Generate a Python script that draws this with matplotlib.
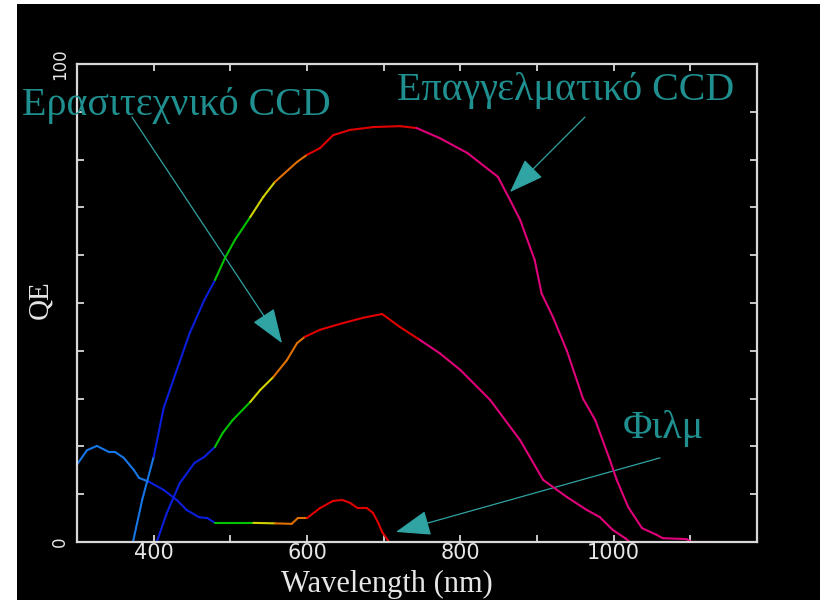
"""
Quantum efficiency of film, amateur and professional CCDs vs wavelength.
"""

import numpy as np
import matplotlib
matplotlib.use("Agg")
import matplotlib.pyplot as plt
from matplotlib.collections import LineCollection
from matplotlib.patches import FancyArrowPatch, Rectangle

# --- data -------------------------------------------------------------------
pro_nm = [373, 385, 400, 413, 428, 447, 466, 480, 493, 506, 526, 543, 558,
          587, 600, 617, 634, 656, 686, 721, 743, 773, 809, 849, 865, 878,
          897, 906, 921, 939, 960, 976, 995, 1004, 1019, 1037, 1056, 1064,
          1095, 1102, 1137]
pro_qe = [0, 8.8, 17.8, 28, 35, 43.7, 50.6, 54.8, 59.4, 63.2, 68, 72.2, 75.3,
          79.5, 81, 82.4, 85.1, 86.2, 86.8, 87, 86.6, 84.5, 81.4, 76.4, 71.5,
          67.4, 59, 52, 47, 40, 30, 25.5, 17.2, 13, 7.3, 2.9, 1.5, 0.8,
          0.6, 0, 0]

am_nm = [404, 417, 434, 453, 466, 480, 490, 503, 526, 539, 556, 574, 587,
         597, 617, 647, 673, 698, 721, 747, 773, 800, 839, 878, 908, 939,
         965, 982, 999, 1015, 1021, 1038]
am_qe = [0, 6, 12.3, 16.5, 17.8, 19.9, 22.8, 25.5, 29.3, 31.8, 34.5, 38.1,
         41.6, 42.9, 44.4, 45.8, 46.9, 47.7, 45, 42.3, 39.5, 36, 29.7, 21.3,
         13, 9.4, 6.7, 5.2, 2.5, 0.8, 0, 0]

film_nm = [300, 313, 326, 342, 350, 361, 374, 381, 394, 413, 430, 443, 459,
           470, 480, 530, 558, 580, 588, 600, 617, 634, 646, 656, 666, 678,
           686, 693, 698, 707]
film_qe = [16.2, 19.2, 20.1, 18.8, 18.8, 17.6, 15.1, 13.4, 12.6, 10.9, 8.8,
           6.7, 5.2, 5, 4, 4, 3.9, 3.8, 5, 5, 7.1, 8.6, 8.8, 8.2, 7.1, 7.1,
           6.1, 4.0, 2.1, 0]

# spectral colour bands (upper edge in nm, colour)
band_edges = [395, 480, 530, 558, 598, 745, 10000]
band_colors = ["#1676e6", "#0a1edc", "#00c400", "#d2d200", "#e07000",
               "#e00000", "#e0007a"]

xticks = [400, 500, 600, 700, 800, 900, 1000, 1100]
xtick_labels = ["400", "", "600", "", "800", "", "1000", ""]
yticks = list(range(0, 101, 10))
ytick_labels = ["0"] + [""] * 9 + ["100"]

TEXT_COL = "#1f908f"
ARROW_COL = "#30a3a3"
FRAME_COL = "#d8d8d8"


def band_color(nm):
    for edge, col in zip(band_edges, band_colors):
        if nm < edge:
            return col
    return band_colors[-1]


def spectral_line(ax, nm, qe):
    pts = np.column_stack([nm, qe])
    segs = np.stack([pts[:-1], pts[1:]], axis=1)
    mids = (np.array(nm[:-1]) + np.array(nm[1:])) / 2
    cols = [band_color(m) for m in mids]
    lc = LineCollection(segs, colors=cols, linewidths=1.5,
                        capstyle="round", joinstyle="round")
    ax.add_collection(lc)


fig = plt.figure(figsize=(8.2001, 6.0001), dpi=100, facecolor="white")
# black canvas, leaving the thin white strip on the left and top
fig.patches.append(Rectangle((17 / 820, 0), 2, 596 / 600,
                             transform=fig.transFigure, facecolor="black",
                             edgecolor="none", zorder=-10))

ax = fig.add_axes([77 / 820, 58 / 600, 680 / 820, 478 / 600])
ax.set_facecolor("black")
ax.set_xlim(300, 1187)
ax.set_ylim(0, 100)

spectral_line(ax, film_nm, film_qe)
spectral_line(ax, am_nm, am_qe)
spectral_line(ax, pro_nm, pro_qe)

for s in ax.spines.values():
    s.set_color(FRAME_COL)
    s.set_linewidth(1.6)

ax.set_xticks(xticks)
ax.set_xticklabels(xtick_labels, fontfamily="DejaVu Sans")
ax.set_yticks(yticks)
ax.set_yticklabels(ytick_labels, rotation=90, va="center",
                   fontfamily="DejaVu Sans")
ax.tick_params(axis="both", direction="in", length=5, width=1.3,
               color=FRAME_COL, labelcolor="#e6e6e6", top=True, right=True)
ax.tick_params(axis="x", labelsize=15, pad=1)
ax.tick_params(axis="y", labelsize=12, pad=6)

fig.text(387 / 820, 8 / 600, "Wavelength (nm)", ha="center", va="baseline",
         fontsize=22, color="#e6e6e6", fontfamily="Liberation Serif")
fig.text(40 / 820, 300 / 600, "QE", ha="center", va="center", rotation=90,
         fontsize=21, color="#e6e6e6", fontfamily="Liberation Serif")

# labels and arrows
ax.text(228, 89.3, "Ερασιτεχνικό CCD", ha="left", va="baseline",
        fontsize=28.8, color=TEXT_COL, fontfamily="Liberation Serif",
        clip_on=False)
ax.text(717, 92.5, "Επαγγελματικό CCD", ha="left", va="baseline",
        fontsize=28.8, color=TEXT_COL, fontfamily="Liberation Serif",
        clip_on=False)
ax.text(1012, 21.8, "Φιλμ", ha="left", va="baseline",
        fontsize=29, color=TEXT_COL, fontfamily="Liberation Serif",
        clip_on=False)

arrows = [((371.7, 88.9), (567.4, 41.6)),
          ((962.6, 88.9), (864.8, 73.2)),
          ((1060.4, 17.6), (716.0, 2.1))]
for tail, tip in arrows:
    arr = FancyArrowPatch(tail, tip, transform=ax.transData,
                          arrowstyle="-|>,head_length=22,head_width=8",
                          mutation_scale=1, color=ARROW_COL, linewidth=0.9,
                          shrinkA=0, shrinkB=0, clip_on=False)
    ax.add_patch(arr)

fig.savefig("out.png", dpi=100, facecolor=fig.get_facecolor())
